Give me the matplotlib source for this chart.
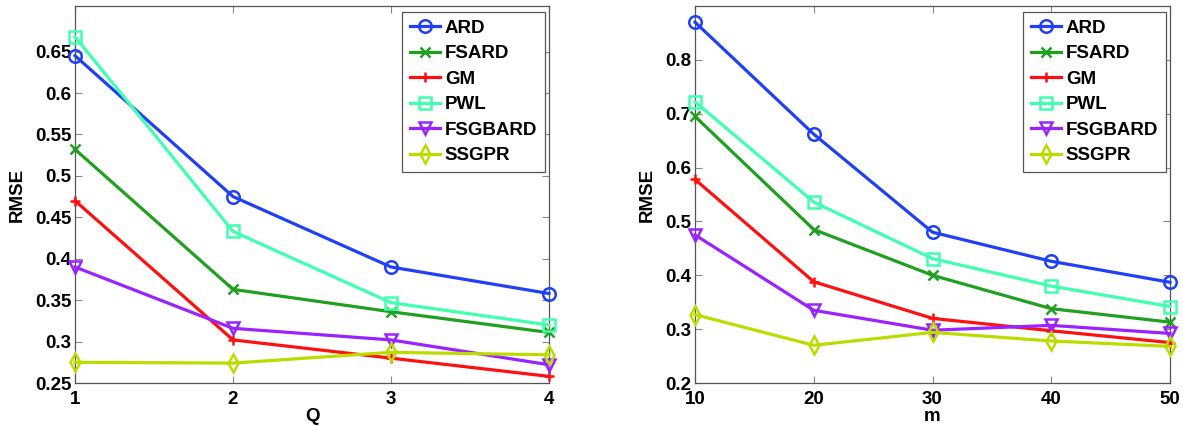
import matplotlib
matplotlib.use("Agg")
import matplotlib.pyplot as plt

plt.rcParams['font.family'] = ['Liberation Sans', 'DejaVu Sans']
plt.rcParams['font.weight'] = 'bold'

methods = ["ARD", "FSARD", "GM", "PWL", "FSGBARD", "SSGPR"]

q_values = [1, 2, 3, 4]
q_ard = [0.645, 0.475, 0.390, 0.358]
q_fsard = [0.532, 0.363, 0.336, 0.311]
q_gm = [0.470, 0.302, 0.280, 0.258]
q_pwl = [0.668, 0.433, 0.347, 0.320]
q_fsgbard = [0.390, 0.316, 0.302, 0.272]
q_ssgpr = [0.275, 0.274, 0.287, 0.284]

m_values = [10, 20, 30, 40, 50]
m_ard = [0.870, 0.662, 0.480, 0.426, 0.387]
m_fsard = [0.695, 0.485, 0.400, 0.338, 0.313]
m_gm = [0.578, 0.388, 0.320, 0.297, 0.275]
m_pwl = [0.722, 0.536, 0.431, 0.380, 0.342]
m_fsgbard = [0.475, 0.335, 0.298, 0.307, 0.292]
m_ssgpr = [0.327, 0.270, 0.294, 0.278, 0.268]

q_ticks = [0.25, 0.3, 0.35, 0.4, 0.45, 0.5, 0.55, 0.6, 0.65]
q_ticklabels = ["0.25", "0.3", "0.35", "0.4", "0.45", "0.5", "0.55", "0.6", "0.65"]
m_ticks = [0.2, 0.3, 0.4, 0.5, 0.6, 0.7, 0.8]
m_ticklabels = ["0.2", "0.3", "0.4", "0.5", "0.6", "0.7", "0.8"]

colors = ["#2040f8", "#20a020", "#ff1010", "#40ffb0", "#9a22ff", "#bcdc00"]
markers = ["o", "x", "+", "s", "v", "d"]

W, H = 1183, 426
fig = plt.figure(figsize=(W / 100, H / 100), dpi=100)

def make_axes(x0, x1, y0, y1):
    return fig.add_axes([x0 / W, 1 - y1 / H, (x1 - x0) / W, (y1 - y0) / H])

ax1 = make_axes(75, 549, 6, 383)
ax2 = make_axes(695, 1170, 6, 383)

FS = 13.5

def draw(ax, xs, series, xlabel, yticks, yticklabels, ylim):
    for name, ys, c, mk in zip(methods, series, colors, markers):
        hollow = mk in ("o", "s", "v", "d")
        ax.plot(xs, ys, color=c, lw=2.3, marker=mk,
                markersize=9 if hollow else 6.5,
                markeredgewidth=1.8,
                markerfacecolor="none" if hollow else c,
                markeredgecolor=c, label=name, clip_on=False, zorder=3)
    ax.set_xlim(xs[0], xs[-1])
    ax.set_ylim(*ylim)
    ax.set_xticks(xs)
    ax.set_xticklabels([str(v) for v in xs])
    ax.set_yticks(yticks)
    ax.set_yticklabels(yticklabels)
    ax.tick_params(direction="in", length=5, width=0.8, color="#888888",
                   labelsize=FS, top=True, right=True)
    ax.tick_params(axis="x", pad=6)
    ax.tick_params(axis="y", pad=2.5)
    for lab in ax.get_xticklabels() + ax.get_yticklabels():
        lab.set_fontweight("bold")
    for sp in ax.spines.values():
        sp.set_color("#555555")
        sp.set_linewidth(0.9)
    ax.set_xlabel(xlabel, fontsize=FS, fontweight="bold", labelpad=0)
    ax.set_ylabel("RMSE", fontsize=FS, fontweight="bold", labelpad=7)
    leg = ax.legend(loc="upper right", bbox_to_anchor=(0.991, 0.984),
                    fontsize=FS, handlelength=1.6, handletextpad=0.27,
                    labelspacing=0.45, borderpad=0.4, fancybox=False,
                    framealpha=1, edgecolor="#555555", borderaxespad=0.0)
    leg.get_frame().set_linewidth(0.9)
    for t in leg.get_texts():
        t.set_fontweight("bold")

draw(ax1, q_values, [q_ard, q_fsard, q_gm, q_pwl, q_fsgbard, q_ssgpr], "Q",
     q_ticks, q_ticklabels, (0.25, 0.705))
draw(ax2, m_values, [m_ard, m_fsard, m_gm, m_pwl, m_fsgbard, m_ssgpr], "m",
     m_ticks, m_ticklabels, (0.2, 0.9))

fig.savefig("out.png", dpi=100)
